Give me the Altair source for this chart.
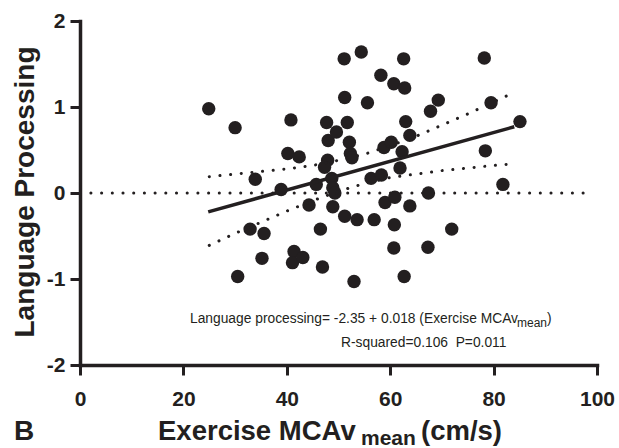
import altair as alt
import pandas as pd

# ---- data ----
x_vals = [24.9, 30.0, 30.5, 33.9, 32.9, 35.6, 35.2, 38.9, 40.8, 40.2,
          42.4, 41.4, 41.1, 43.1, 44.3, 45.7, 46.5, 46.9, 47.7, 48.0,
          49.6, 47.9, 47.3, 48.7, 48.9, 49.3, 48.9, 51.1, 54.4, 51.2,
          51.7, 52.1, 52.3, 52.6, 51.2, 53.6, 53.0, 55.6, 56.3, 58.3,
          56.9, 58.2, 60.7, 62.8, 62.6, 58.8, 60.2, 59.0, 60.9, 62.3,
          61.9, 63.0, 63.8, 63.8, 60.8, 60.7, 62.7, 67.4, 67.8, 69.3,
          67.3, 71.9, 78.2, 78.4, 79.5, 81.8, 85.1]
y_vals = [0.98, 0.76, -0.97, 0.16, -0.42, -0.47, -0.76, 0.04, 0.85, 0.46,
          0.42, -0.68, -0.81, -0.75, -0.14, 0.10, -0.42, -0.86, 0.82, 0.61,
          0.71, 0.38, 0.30, 0.17, 0.06, 0.0, -0.16, 1.56, 1.64, 1.11,
          0.82, 0.59, 0.46, 0.41, -0.27, -0.31, -1.03, 1.05, 0.17, 0.21,
          -0.31, 1.37, 1.27, 1.22, 1.56, 0.53, 0.59, -0.11, -0.05, 0.48,
          0.29, 0.83, 0.67, -0.15, -0.37, -0.64, -0.97, 0.0, 0.95, 1.08,
          -0.63, -0.42, 1.57, 0.49, 1.05, 0.10, 0.83]

fit_x = [24.8, 84.0]
fit_y = [-0.22, 0.77]

band_x = [25, 30, 35, 40, 45, 50, 55, 60, 65, 70, 75, 80, 84]
band_upper = [0.19, 0.22, 0.25, 0.28, 0.32, 0.38, 0.45, 0.55, 0.66, 0.79, 0.92, 1.06, 1.17]
band_lower = [-0.61, -0.47, -0.34, -0.21, -0.09, 0.02, 0.11, 0.18, 0.22, 0.26, 0.29, 0.32, 0.34]

zero_x = [2.1, 98.3]
zero_y = [0, 0]

x_ticks = [0, 20, 40, 60, 80, 100]
y_ticks = [-2, -1, 0, 1, 2]

texts = {
    "eq_main": "Language processing= -2.35 + 0.018 (Exercise MCAv",
    "eq_sub": "mean",
    "eq_close": ")",
    "rsq": "R-squared=0.106\u00a0 P=0.011",
    "xt_main": "Exercise MCAv",
    "xt_sub": "mean",
    "xt_unit": "(cm/s)",
    "ytitle": "Language Processing",
    "panel": "B",
}

INK = "#231f20"
FONT = "Liberation Sans"

pts = pd.DataFrame({"x": x_vals, "y": y_vals})
fit = pd.DataFrame({"x": fit_x, "y": fit_y})
upper = pd.DataFrame({"x": band_x, "y": band_upper})
lower = pd.DataFrame({"x": band_x, "y": band_lower})
zero = pd.DataFrame({"x": zero_x, "y": zero_y})

xs = alt.Scale(domain=[0, 100], nice=False, zero=False)
ys = alt.Scale(domain=[-2, 2], nice=False, zero=False)

axis_common = dict(title="", grid=False, labelFont=FONT, labelFontWeight="bold",
                   labelFontSize=21, labelColor=INK, tickSize=10, tickWidth=3,
                   tickColor=INK, domainColor=INK, domainWidth=3.5,
                   domainCap="square", labelFlush=False,
                   labelExpr="'' + datum.value")
xaxis = alt.Axis(values=x_ticks, labelPadding=13, **axis_common)
yaxis = alt.Axis(values=y_ticks, labelPadding=5, **axis_common)

points = alt.Chart(pts).mark_point(filled=True, size=180, color=INK, opacity=1).encode(
    x=alt.X("x:Q", scale=xs, axis=xaxis),
    y=alt.Y("y:Q", scale=ys, axis=yaxis),
)

dot = dict(strokeDash=[0.1, 10.6], strokeCap="round", strokeWidth=3, color=INK)

zero_line = alt.Chart(zero).mark_line(**dot).encode(
    x=alt.X("x:Q", scale=xs), y=alt.Y("y:Q", scale=ys))
up_line = alt.Chart(upper).mark_line(**dot).encode(
    x=alt.X("x:Q", scale=xs), y=alt.Y("y:Q", scale=ys))
lo_line = alt.Chart(lower).mark_line(**dot).encode(
    x=alt.X("x:Q", scale=xs), y=alt.Y("y:Q", scale=ys))
fit_line = alt.Chart(fit).mark_line(color=INK, strokeWidth=3.5).encode(
    x=alt.X("x:Q", scale=xs), y=alt.Y("y:Q", scale=ys))


def label(key, px, py, size, weight="normal", angle=0, align="left"):
    df = pd.DataFrame({"t": [texts[key]]})
    kw = dict(font=FONT, fontSize=size, fontWeight=weight, color=INK,
              align=align, baseline="alphabetic")
    if angle:
        kw["angle"] = angle
    return alt.Chart(df).mark_text(**kw).encode(
        text="t:N", x=alt.value(px), y=alt.value(py))


labels = [
    label("eq_main", 110, 302, 13.8),
    label("eq_sub", 437, 306, 12),
    label("eq_close", 467, 302, 13.8),
    label("rsq", 261, 326, 13.8),
    label("xt_main", 78, 419, 27.5, "bold"),
    label("xt_sub", 281, 424, 21, "bold"),
    label("xt_unit", 341, 419, 27.5, "bold"),
    label("panel", -66, 419, 28, "bold"),
    label("ytitle", -46, 171, 28, "bold", angle=270, align="center"),
]

chart = alt.layer(points, zero_line, up_line, lo_line, fit_line, *labels).properties(
    width=517, height=344,
    autosize=alt.AutoSizeParams(type="none"),
    padding={"left": 80, "top": 21, "right": 22, "bottom": 83},
    background="white",
).configure_view(stroke=None)

chart.save("out.html", embed_options={"renderer": "svg", "actions": False})
